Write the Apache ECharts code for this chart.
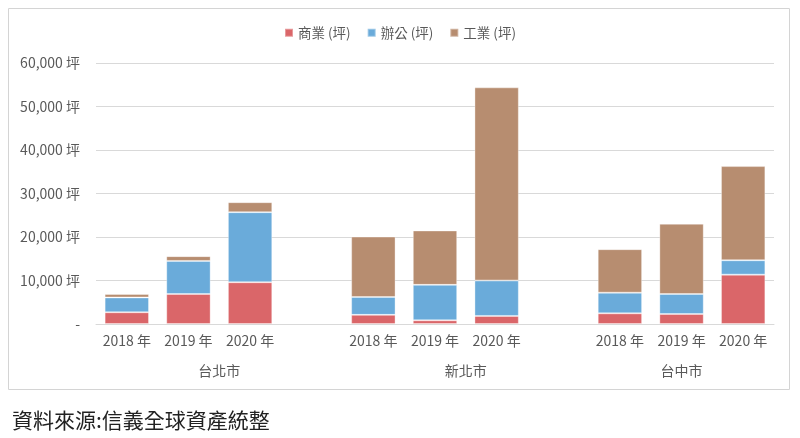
<!DOCTYPE html>
<html>
<head>
<meta charset="utf-8">
<script src="https://cdn.jsdelivr.net/npm/echarts@6/dist/echarts.min.js"></script>
<style>
html,body{margin:0;padding:0;background:#fff;}
#c{width:800px;height:438px;}
</style>
</head>
<body>
<div id="c"></div>
<script>
const categories = ['2018 年','2019 年','2020 年','','2018 年','2019 年','2020 年','','2018 年','2019 年','2020 年'];
const groupNames = ['台北市','新北市','台中市'];
const groupCenters = [1.5, 5.5, 9];
const commercial = [2700, 6900, 9600, null, 2100, 850, 1850, null, 2450, 2300, 11350];
const office     = [3400, 7600, 16100, null, 4100, 8150, 8150, null, 4750, 4600, 3300];
const industrial = [800, 1100, 2300, null, 13900, 12500, 44400, null, 10000, 16150, 21650];
const seriesNames = ['商業 (坪)','辦公 (坪)','工業 (坪)'];
const yTicks = [0, 10000, 20000, 30000, 40000, 50000, 60000];

const font = '"Noto Sans CJK TC", "Noto Sans", sans-serif';
const colors = ['#da6669', '#6aabda', '#b78d70'];
const chart = echarts.init(document.getElementById('c'));
function fmt(v){ return v === 0 ? '-' : v.toLocaleString('en-US') + ' 坪'; }
const mk = (name, data, i) => ({
  name, type: 'bar', stack: 'total', data, barWidth: '72%',
  itemStyle: { color: colors[i], borderColor: 'rgba(255,255,255,0.35)', borderWidth: 1 },
  xAxisIndex: 0
});
chart.setOption({
  animation: false,
  textStyle: { fontFamily: font },
  title: {
    text: '資料來源:信義全球資產統整', left: 7, top: 405,
    textStyle: { fontFamily: font, fontSize: 21, fontWeight: 'normal', color: '#222' }
  },
  graphic: [{
    type: 'rect', shape: { x: 8.5, y: 8.5, width: 781, height: 381 },
    style: { fill: 'none', stroke: '#d4d4d4', lineWidth: 1 }, silent: true
  }],
  legend: {
    top: 21, left: 'center', itemWidth: 8, itemHeight: 8, itemGap: 16,
    icon: 'rect',
    textStyle: { fontFamily: font, fontSize: 13.5, color: '#595959' },
    data: seriesNames
  },
  grid: { left: 96, right: 26, top: 63, bottom: 114, containLabel: false },
  xAxis: [{
    type: 'category', data: categories,
    axisLine: { show: true, lineStyle: { color: '#d9d9d9' } },
    axisTick: { show: false },
    axisLabel: { fontFamily: font, fontSize: 14, color: '#595959', margin: 10, interval: 0 }
  }, {
    type: 'value', min: -0.5, max: 10.5, position: 'bottom', offset: 30,
    axisLine: { show: false }, axisTick: { show: false }, splitLine: { show: false },
    axisLabel: {
      customValues: groupCenters,
      fontFamily: font, fontSize: 14, color: '#595959', margin: 10,
      formatter: v => { const i = groupCenters.indexOf(v); return i >= 0 ? groupNames[i] : ''; }
    }
  }],
  yAxis: {
    type: 'value', min: 0, max: 60000, interval: 10000,
    axisLine: { show: false }, axisTick: { show: false },
    splitLine: { lineStyle: { color: '#d9d9d9' } },
    axisLabel: { fontFamily: font, fontSize: 14, color: '#595959', margin: 16, formatter: fmt }
  },
  series: [mk(seriesNames[0], commercial, 0), mk(seriesNames[1], office, 1), mk(seriesNames[2], industrial, 2)]
});
</script>
</body>
</html>
